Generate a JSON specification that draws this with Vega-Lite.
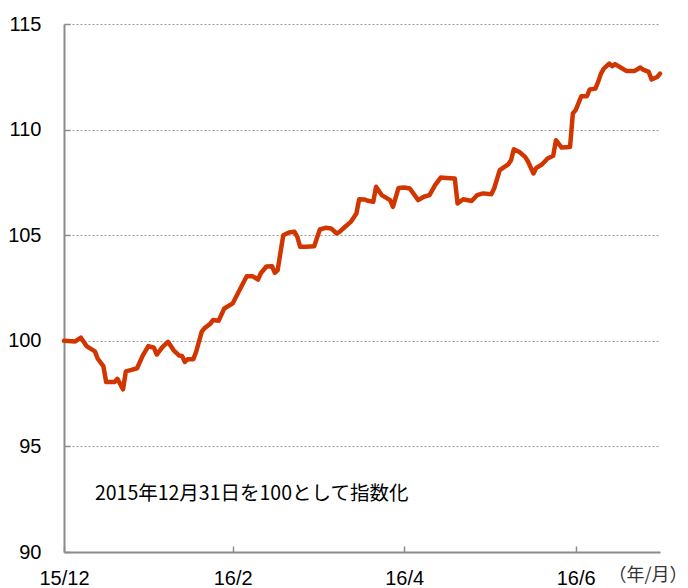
{
  "$schema": "https://vega.github.io/schema/vega-lite/v6.json",
  "width": 596,
  "height": 528,
  "autosize": {"type": "none"},
  "padding": {"left": 64, "top": 24, "right": 28, "bottom": 36},
  "background": "white",
  "config": {"view": {"stroke": null}, "font": "Liberation Sans"},
  "layer": [
    {
      "data": {
        "values": [
          {"date": "2015-12-31", "value": 100.0},
          {"date": "2016-01-04", "value": 99.97},
          {"date": "2016-01-06", "value": 100.15},
          {"date": "2016-01-07", "value": 99.95},
          {"date": "2016-01-08", "value": 99.75},
          {"date": "2016-01-11", "value": 99.5},
          {"date": "2016-01-12", "value": 99.15},
          {"date": "2016-01-14", "value": 98.8},
          {"date": "2016-01-15", "value": 98.05},
          {"date": "2016-01-18", "value": 98.05},
          {"date": "2016-01-19", "value": 98.2},
          {"date": "2016-01-21", "value": 97.7},
          {"date": "2016-01-22", "value": 98.55},
          {"date": "2016-01-24", "value": 98.62},
          {"date": "2016-01-26", "value": 98.7},
          {"date": "2016-01-28", "value": 99.3},
          {"date": "2016-01-30", "value": 99.75},
          {"date": "2016-02-01", "value": 99.67},
          {"date": "2016-02-02", "value": 99.35},
          {"date": "2016-02-04", "value": 99.7},
          {"date": "2016-02-06", "value": 99.95},
          {"date": "2016-02-08", "value": 99.55},
          {"date": "2016-02-10", "value": 99.3},
          {"date": "2016-02-11", "value": 99.28},
          {"date": "2016-02-12", "value": 99.0},
          {"date": "2016-02-13", "value": 99.13},
          {"date": "2016-02-15", "value": 99.13},
          {"date": "2016-02-16", "value": 99.48},
          {"date": "2016-02-18", "value": 100.43},
          {"date": "2016-02-19", "value": 100.6},
          {"date": "2016-02-21", "value": 100.8},
          {"date": "2016-02-22", "value": 100.98},
          {"date": "2016-02-24", "value": 100.95},
          {"date": "2016-02-26", "value": 101.53},
          {"date": "2016-02-29", "value": 101.77},
          {"date": "2016-03-03", "value": 102.55},
          {"date": "2016-03-05", "value": 103.06},
          {"date": "2016-03-07", "value": 103.06},
          {"date": "2016-03-09", "value": 102.9},
          {"date": "2016-03-10", "value": 103.2},
          {"date": "2016-03-12", "value": 103.52},
          {"date": "2016-03-14", "value": 103.53},
          {"date": "2016-03-15", "value": 103.22},
          {"date": "2016-03-16", "value": 103.35},
          {"date": "2016-03-18", "value": 105.0},
          {"date": "2016-03-20", "value": 105.13},
          {"date": "2016-03-22", "value": 105.16},
          {"date": "2016-03-23", "value": 104.92},
          {"date": "2016-03-24", "value": 104.45},
          {"date": "2016-03-26", "value": 104.45},
          {"date": "2016-03-29", "value": 104.48},
          {"date": "2016-03-31", "value": 105.27},
          {"date": "2016-04-02", "value": 105.35},
          {"date": "2016-04-04", "value": 105.32},
          {"date": "2016-04-06", "value": 105.08},
          {"date": "2016-04-07", "value": 105.16},
          {"date": "2016-04-09", "value": 105.4},
          {"date": "2016-04-11", "value": 105.63},
          {"date": "2016-04-13", "value": 106.03},
          {"date": "2016-04-14", "value": 106.7},
          {"date": "2016-04-16", "value": 106.69},
          {"date": "2016-04-17", "value": 106.63},
          {"date": "2016-04-19", "value": 106.58},
          {"date": "2016-04-20", "value": 107.29},
          {"date": "2016-04-22", "value": 106.9},
          {"date": "2016-04-25", "value": 106.66},
          {"date": "2016-04-26", "value": 106.34},
          {"date": "2016-04-28", "value": 107.24},
          {"date": "2016-04-30", "value": 107.26},
          {"date": "2016-05-02", "value": 107.21},
          {"date": "2016-05-05", "value": 106.66},
          {"date": "2016-05-07", "value": 106.82},
          {"date": "2016-05-09", "value": 106.9},
          {"date": "2016-05-11", "value": 107.37},
          {"date": "2016-05-13", "value": 107.73},
          {"date": "2016-05-15", "value": 107.71},
          {"date": "2016-05-18", "value": 107.68},
          {"date": "2016-05-19", "value": 106.5},
          {"date": "2016-05-21", "value": 106.7},
          {"date": "2016-05-24", "value": 106.62},
          {"date": "2016-05-26", "value": 106.9},
          {"date": "2016-05-28", "value": 106.98},
          {"date": "2016-05-31", "value": 106.94},
          {"date": "2016-06-01", "value": 107.21},
          {"date": "2016-06-03", "value": 108.08},
          {"date": "2016-06-06", "value": 108.35},
          {"date": "2016-06-07", "value": 108.55},
          {"date": "2016-06-08", "value": 109.07},
          {"date": "2016-06-10", "value": 108.94},
          {"date": "2016-06-12", "value": 108.71},
          {"date": "2016-06-13", "value": 108.5},
          {"date": "2016-06-15", "value": 107.92},
          {"date": "2016-06-16", "value": 108.19},
          {"date": "2016-06-18", "value": 108.35},
          {"date": "2016-06-20", "value": 108.63},
          {"date": "2016-06-22", "value": 108.76},
          {"date": "2016-06-23", "value": 109.5},
          {"date": "2016-06-25", "value": 109.15},
          {"date": "2016-06-28", "value": 109.18},
          {"date": "2016-06-29", "value": 110.76},
          {"date": "2016-06-30", "value": 110.92},
          {"date": "2016-07-02", "value": 111.58},
          {"date": "2016-07-04", "value": 111.58},
          {"date": "2016-07-05", "value": 111.9},
          {"date": "2016-07-07", "value": 111.94},
          {"date": "2016-07-08", "value": 112.26},
          {"date": "2016-07-09", "value": 112.65},
          {"date": "2016-07-10", "value": 112.89},
          {"date": "2016-07-12", "value": 113.13},
          {"date": "2016-07-13", "value": 113.0},
          {"date": "2016-07-14", "value": 113.1},
          {"date": "2016-07-16", "value": 112.94},
          {"date": "2016-07-18", "value": 112.78},
          {"date": "2016-07-21", "value": 112.78},
          {"date": "2016-07-23", "value": 112.94},
          {"date": "2016-07-24", "value": 112.84},
          {"date": "2016-07-26", "value": 112.73},
          {"date": "2016-07-27", "value": 112.37},
          {"date": "2016-07-29", "value": 112.49},
          {"date": "2016-07-30", "value": 112.65}
        ]
      },
      "mark": {"type": "line", "color": "#d23600", "strokeWidth": 4.5, "strokeJoin": "round", "strokeCap": "round"},
      "encoding": {
        "x": {
          "field": "date",
          "type": "temporal",
          "scale": {
            "type": "utc",
            "domain": [
              {"year": 2015, "month": 12, "date": 31, "utc": true},
              {"year": 2016, "month": 7, "date": 30, "utc": true}
            ]
          },
          "axis": {
            "values": [
              {"year": 2015, "month": 12, "date": 31, "utc": true},
              {"year": 2016, "month": 2, "date": 29, "utc": true},
              {"year": 2016, "month": 4, "date": 30, "utc": true},
              {"year": 2016, "month": 6, "date": 30, "utc": true}
            ],
            "labelExpr": "utcFormat(datum.value, '%y/%-m')",
            "labelFlush": false,
            "labelOverlap": false,
            "labelFontSize": 20,
            "labelColor": "#000000",
            "labelPadding": 22,
            "labelBaseline": "top",
            "domainColor": "#8c8c8c",
            "domainWidth": 2,
            "tickColor": "#8c8c8c",
            "tickWidth": 1.5,
            "tickSize": -6,
            "grid": false,
            "title": "（年/月）",
            "titleFont": "Noto Sans CJK JP",
            "titleFontSize": 18,
            "titleFontWeight": "normal",
            "titleColor": "#333333",
            "titleAlign": "right",
            "titleBaseline": "middle",
            "titleX": 623,
            "titleY": 23
          }
        },
        "y": {
          "field": "value",
          "type": "quantitative",
          "scale": {"domain": [90, 115], "nice": false, "zero": false},
          "axis": {
            "values": [90, 95, 100, 105, 110, 115],
            "labelFontSize": 20,
            "labelColor": "#000000",
            "labelPadding": 29,
            "domainColor": "#8c8c8c",
            "domainWidth": 2,
            "tickColor": "#8c8c8c",
            "tickWidth": 1.5,
            "tickSize": -6,
            "grid": true,
            "gridColor": "#9a9a9a",
            "gridDash": [2, 2],
            "gridWidth": 1,
            "title": null
          }
        }
      }
    },
    {
      "data": {"values": [{"date": "2016-01-11", "value": 92.75, "label": "2015年12月31日を100として指数化"}]},
      "mark": {"type": "text", "align": "left", "baseline": "middle", "font": "Noto Sans CJK JP", "fontSize": 19.5, "color": "#000000"},
      "encoding": {
        "x": {"field": "date", "type": "temporal"},
        "y": {"field": "value", "type": "quantitative"},
        "text": {"field": "label", "type": "nominal"}
      }
    }
  ]
}
